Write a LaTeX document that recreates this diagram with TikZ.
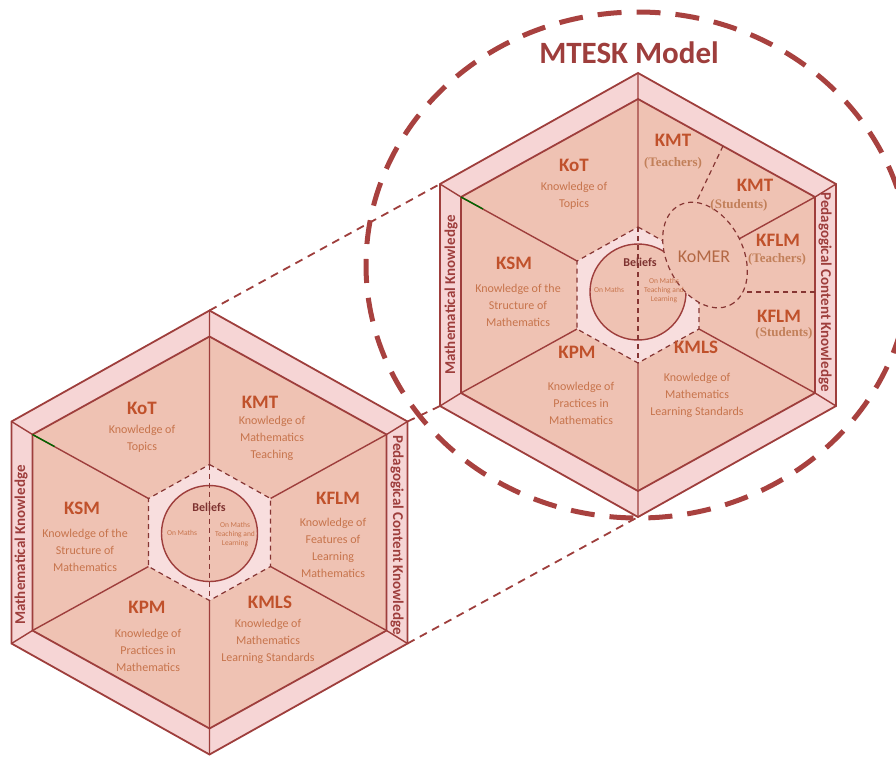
\documentclass[tikz,border=0pt]{standalone}
\usepackage{fontspec}
\setmainfont{Carlito}
\newfontfamily\tagfont{Liberation Serif}
\usetikzlibrary{shapes.geometric}

\definecolor{mtline}{HTML}{9E3E3C}
\definecolor{mtband}{HTML}{F6D5D5}
\definecolor{mtsector}{HTML}{EFC2B3}
\definecolor{mtcore}{HTML}{F8DEDE}
\definecolor{mthead}{HTML}{C0512B}
\definecolor{mttext}{HTML}{C7744C}
\definecolor{mttag}{HTML}{C2805A}
\definecolor{mtring}{HTML}{A8413F}

\tikzset{
  hexline/.style={draw=mtline, line width=1.8pt, line join=miter},
  spoke/.style={draw=mtline, line width=1.4pt},
  divider/.style={draw=mtline!85!black, line width=1.2pt, dash pattern=on 5pt off 4pt},
  link/.style={draw=mtline, line width=1.8pt, dash pattern=on 8pt off 6pt},
  bigring/.style={draw=mtring, line width=5pt, dash pattern=on 24pt off 15pt},
  komerring/.style={ellipse, draw=mtline!85!black, line width=1.2pt, dash pattern=on 5pt off 4pt, fill=mtsector, inner sep=0pt},
  titlelbl/.style={font=\bfseries\fontsize{31}{34}\selectfont, text=mtline},
  headlbl/.style={font=\bfseries\fontsize{19}{21}\selectfont, text=mthead, inner sep=0pt},
  desclbl/.style={font=\fontsize{12}{17}\selectfont, text=mttext, align=center, inner sep=0pt},
  bandlbl/.style={font=\bfseries\fontsize{15}{17}\selectfont, text=mtline, inner sep=0pt},
  beliefs/.style={font=\bfseries\fontsize{12}{14}\selectfont, text=mtline!80!black, inner sep=0pt},
  tinylbl/.style={font=\fontsize{7.5}{9}\selectfont, text=mttext, align=center, inner sep=0pt},
  subtag/.style={font=\tagfont\bfseries\fontsize{13}{15}\selectfont, text=mttag, inner sep=0pt},
  komerlbl/.style={font=\fontsize{18}{20}\selectfont, text=mttext!90!black, inner sep=0pt}
}

\begin{document}
\begin{tikzpicture}[x=1pt, y=-1pt]
  \useasboundingbox (0,0) rectangle (896,758);

  % --- LEFT HEXAGON ---
  \begin{scope}[shift={(209.5,532.5)}]
    \coordinate (Ltop) at (0,-222);
    \coordinate (Lur) at (198,-111);
    \coordinate (Llr) at (198,111);
    % outer band
    \draw[hexline, fill=mtband] (0,-222) -- (198,-111) -- (198,111) -- (0,222) -- (-198,111) -- (-198,-111) -- cycle;
    % inner hexagon
    \draw[hexline, fill=mtsector] (0,-196) -- (177,-98) -- (177,98) -- (0,196) -- (-177,98) -- (-177,-98) -- cycle;
    % bevels and spokes
    \draw[spoke] (0,-222) -- (0,-196) (198,-111) -- (177,-98) (198,111) -- (177,98)
                 (0,222) -- (0,196) (-198,111) -- (-177,98) (-198,-111) -- (-177,-98);
    \draw[spoke] (0,-196) -- (0,-68) (177,-98) -- (61,-34) (177,98) -- (61,34)
                 (0,196) -- (0,68) (-177,98) -- (-61,34) (-177,-98) -- (-61,-34);
    \draw[spoke, green!40!black] (-177,-98) -- (-155,-86);
    % beliefs core
    \draw[divider, fill=mtcore] (0,-68) -- (61,-34) -- (61,34) -- (0,68) -- (-61,34) -- (-61,-34) -- cycle;
    \draw[spoke, fill=mtsector] (0,1) circle (48);
    \draw[divider] (0,-68) -- (0,68);
  \end{scope}

  \node[headlbl] (lkot) at (142,408) {KoT};
  \node[desclbl] (lkotd) at (142,439) {Knowledge of\\Topics};
  \node[headlbl] (lkmt) at (260,402) {KMT};
  \node[desclbl] (lkmtd) at (272,438) {Knowledge of\\Mathematics\\Teaching};
  \node[headlbl] (lksm) at (82,508) {KSM};
  \node[desclbl] (lksmd) at (85,550) {Knowledge of the\\Structure of\\Mathematics};
  \node[headlbl] (lkflm) at (338,498) {KFLM};
  \node[desclbl] (lkflmd) at (333,548) {Knowledge of\\Features of\\Learning\\Mathematics};
  \node[headlbl] (lkpm) at (147,607) {KPM};
  \node[desclbl] (lkpmd) at (148,650) {Knowledge of\\Practices in\\Mathematics};
  \node[headlbl] (lkmls) at (270,602) {KMLS};
  \node[desclbl] (lkmlsd) at (268,641) {Knowledge of\\Mathematics\\Learning Standards};
  \node[beliefs] (lbel) at (209,507) {Beliefs};
  \node[tinylbl] (lbelm) at (182,533) {On Maths};
  \node[tinylbl] (lbelt) at (235,535) {On Maths\\Teaching and\\Learning};
  \node[bandlbl, rotate=90] (lmk) at (21,545) {Mathematical Knowledge};
  \node[bandlbl, rotate=-90] (lpck) at (397,535) {Pedagogical Content Knowledge};

  % --- RIGHT HEXAGON (MTESK) ---
  \begin{scope}[shift={(638,295)}]
    \coordinate (Rul) at (-198,-111);
    \coordinate (Rll) at (-198,111);
    \coordinate (Rbot) at (0,222);
    \coordinate (kmtcut) at (85,-149);
    \coordinate (kmtend) at (52,-80);
    \coordinate (kflmcut) at (177,-3);
    \coordinate (kflmend) at (80,-3);
    % outer band
    \draw[hexline, fill=mtband] (0,-222) -- (198,-111) -- (198,111) -- (0,222) -- (-198,111) -- (-198,-111) -- cycle;
    % inner hexagon
    \draw[hexline, fill=mtsector] (0,-196) -- (177,-98) -- (177,98) -- (0,196) -- (-177,98) -- (-177,-98) -- cycle;
    % bevels and spokes
    \draw[spoke] (0,-222) -- (0,-196) (198,-111) -- (177,-98) (198,111) -- (177,98)
                 (0,222) -- (0,196) (-198,111) -- (-177,98) (-198,-111) -- (-177,-98);
    \draw[spoke] (0,-196) -- (0,-68) (177,-98) -- (61,-34) (177,98) -- (61,34)
                 (0,196) -- (0,68) (-177,98) -- (-61,34) (-177,-98) -- (-61,-34);
    \draw[spoke, green!40!black] (-177,-98) -- (-155,-86);
    % beliefs core
    \draw[divider, fill=mtcore] (0,-68) -- (61,-34) -- (61,34) -- (0,68) -- (-61,34) -- (-61,-34) -- cycle;
    \draw[spoke, fill=mtsector] (0,-3) circle (48);
    \draw[divider] (0,-68) -- (0,68);
    % split sectors
    \draw[divider] (kmtcut) -- (kmtend);
    \draw[divider] (kflmcut) -- (kflmend);
  \end{scope}

  \node[komerring, minimum width=112pt, minimum height=76pt, rotate=-63] (komer) at (705,255) {};

  \node[headlbl] (rkot) at (574,165) {KoT};
  \node[desclbl] (rkotd) at (574,196) {Knowledge of\\Topics};
  \node[headlbl] (rksm) at (514,263) {KSM};
  \node[desclbl] (rksmd) at (518,305) {Knowledge of the\\Structure of\\Mathematics};
  \node[headlbl] (rkpm) at (577,352) {KPM};
  \node[desclbl] (rkpmd) at (581,403) {Knowledge of\\Practices in\\Mathematics};
  \node[headlbl] (rkmls) at (696,347) {KMLS};
  \node[desclbl] (rkmlsd) at (697,395) {Knowledge of\\Mathematics\\Learning Standards};
  \node[headlbl] (rkmtt) at (673,140) {KMT};
  \node[subtag] (rkmtts) at (673,163) {(Teachers)};
  \node[headlbl] (rkmts) at (755,185) {KMT};
  \node[subtag] (rkmtss) at (739,205) {(Students)};
  \node[headlbl] (rkflmt) at (778,240) {KFLM};
  \node[subtag] (rkflmts) at (777,259) {(Teachers)};
  \node[headlbl] (rkflms) at (779,316) {KFLM};
  \node[subtag] (rkflmss) at (784,333) {(Students)};
  \node[komerlbl] (komertxt) at (704,257) {KoMER};
  \node[beliefs] (rbel) at (640,262) {Beliefs};
  \node[tinylbl] (rbelm) at (609,290) {On Maths};
  \node[tinylbl] (rbelt) at (664,291) {On Maths\\Teaching and\\Learning};
  \node[bandlbl, rotate=90] (rmk) at (451,295) {Mathematical Knowledge};
  \node[bandlbl, rotate=-90] (rpck) at (825,292) {Pedagogical Content Knowledge};

  % --- ZOOM LINKS AND RING ---
  \draw[link] (Ltop) -- (Rul);
  \draw[link] (Lur) -- (Rll);
  \draw[link] (Llr) -- (Rbot);
  \coordinate (ringc) at (638,265);
  \draw[bigring] (ringc) ellipse [x radius=272pt, y radius=253pt];

  \node[titlelbl] (title) at (629,53) {MTESK Model};

\end{tikzpicture}
\end{document}
